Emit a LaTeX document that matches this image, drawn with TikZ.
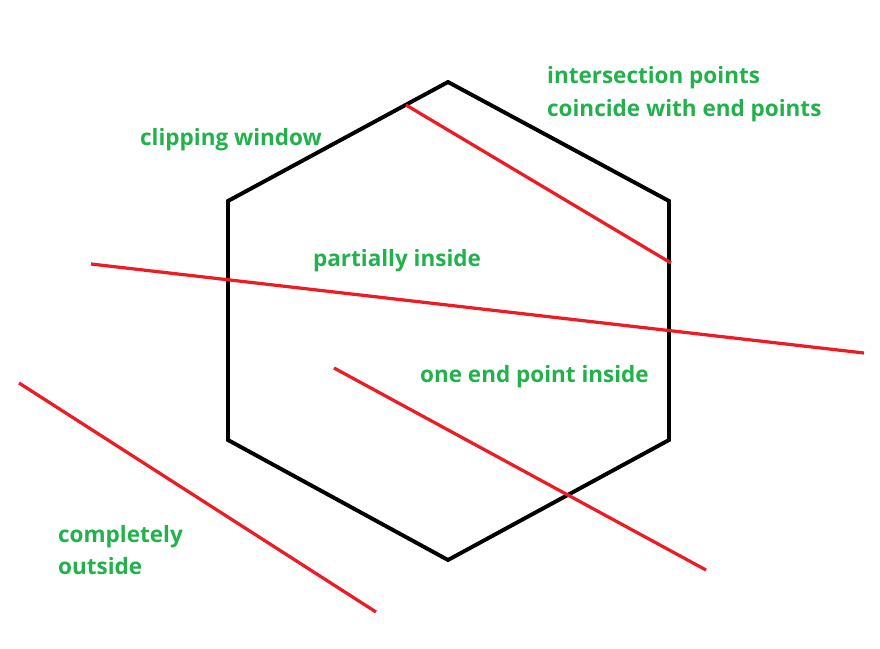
\documentclass[tikz,border=0pt]{standalone}
\usepackage{fontspec}
\setmainfont{Open Sans}
\definecolor{lbl}{RGB}{34,177,76}
\definecolor{seg}{RGB}{237,28,36}
\begin{document}
\begin{tikzpicture}[x=0.05cm,y=-0.05cm,
  win/.style={line width=5.6pt,line join=miter},
  segline/.style={seg,line width=4.6pt},
  lab/.style={text=lbl,anchor=west,inner sep=0pt,font=\bfseries\fontsize{32}{46}\selectfont,align=left}]
\useasboundingbox (0,0) rectangle (880,649);
\coordinate (v1) at (448,82);
\coordinate (v2) at (669,201);
\coordinate (v3) at (669,440);
\coordinate (v4) at (448,560);
\coordinate (v5) at (228,440);
\coordinate (v6) at (228,201);
\draw[win] (v1)--(v2)--(v3)--(v4)--(v5)--(v6)--cycle;
\coordinate (a1) at (406,105); \coordinate (a2) at (671,263);
\coordinate (b1) at (91,264);  \coordinate (b2) at (864,353);
\coordinate (c1) at (334,368); \coordinate (c2) at (706,570);
\coordinate (d1) at (19,383);  \coordinate (d2) at (376,612);
\draw[segline] (a1)--(a2);
\draw[segline] (b1)--(b2);
\draw[segline] (c1)--(c2);
\draw[segline] (d1)--(d2);
\node[lab] (t1) at (140,140) {clipping window};
\node[lab] (t2) at (547,94) {intersection points\\coincide with end points};
\node[lab] (t3) at (313,261) {partially inside};
\node[lab] (t4) at (420,377) {one end point inside};
\node[lab] (t5) at (58,550) {completely\\outside};
\end{tikzpicture}
\end{document}
